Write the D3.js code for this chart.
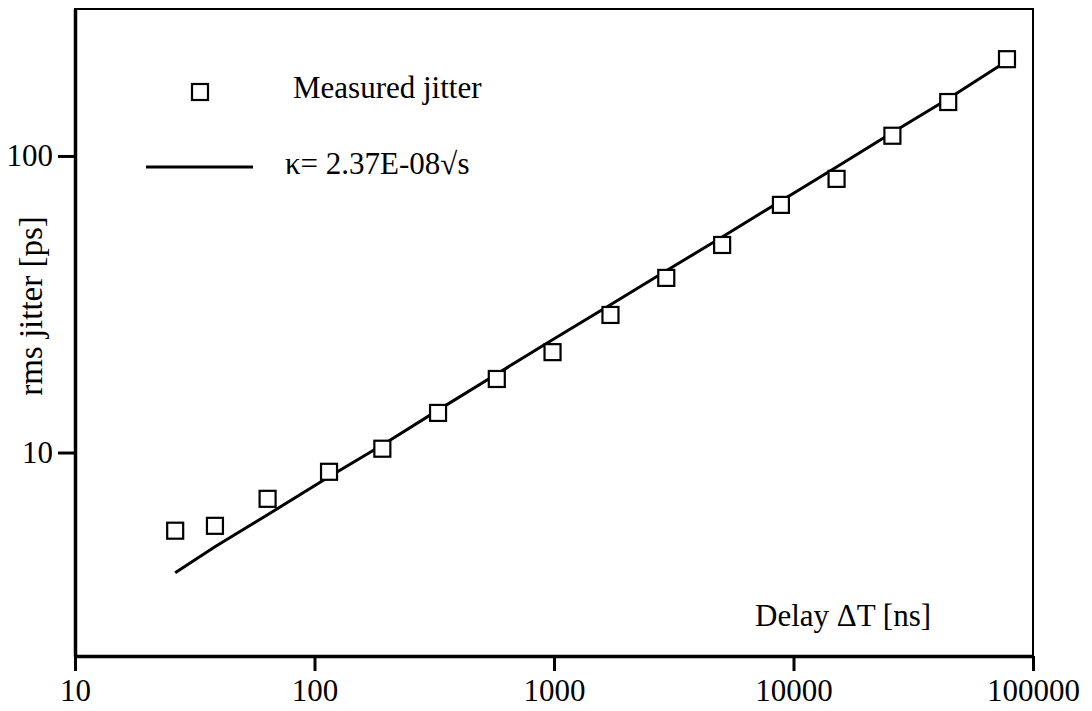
<!DOCTYPE html>
<html>
<head>
<meta charset="utf-8">
<script src="https://cdn.jsdelivr.net/npm/d3@7"></script>
<style>
  body { margin: 0; background: #fff; }
  svg { display: block; font-family: "Liberation Serif", "Times New Roman", serif; }
</style>
</head>
<body>
<svg width="1092" height="711"></svg>
<script>
// measured points: delay [ns] and rms jitter [ps]
var delays = [26.2, 38.4, 63.7, 115, 192, 328, 577, 986, 1721, 2943, 5035, 8860, 15130, 25880, 44260, 77870];
var jitter = [5.45, 5.66, 6.98, 8.61, 10.3, 13.6, 17.7, 21.8, 29.1, 38.8, 50.1, 68.4, 83.7, 117, 152, 212];
// fit curve, evaluated at the same delays
var fit = [3.93, 4.81, 6.17, 8.28, 10.6, 13.9, 18.4, 24.0, 31.5, 41.0, 53.3, 70.5, 91.8, 120, 156, 209];

var xTicks = [10, 100, 1000, 10000, 100000];
var yTicks = [10, 100];

var width = 1092;
var height = 711;
var margin = {top: 9, right: 59, bottom: 55, left: 75};

var svg = d3.select('svg');

var xScale = d3.scaleLog()
  .domain([10, 100000])
  .range([margin.left, width - margin.right]);

var yScale = d3.scaleLog()
  .domain([2.06, 313])
  .range([height - margin.bottom, margin.top]);

// frame (top / right thinner)
svg.append('rect')
  .attr('x', margin.left)
  .attr('y', margin.top)
  .attr('width', width - margin.right - margin.left)
  .attr('height', height - margin.bottom - margin.top)
  .attr('fill', 'none')
  .attr('stroke', '#000')
  .attr('stroke-width', 2);

var xAxis = d3.axisBottom(xScale)
  .tickValues(xTicks)
  .tickFormat(d3.format('d'))
  .tickSizeInner(15)
  .tickSizeOuter(0)
  .tickPadding(8);

var yAxis = d3.axisLeft(yScale)
  .tickValues(yTicks)
  .tickFormat(d3.format('d'))
  .tickSizeInner(17)
  .tickSizeOuter(0)
  .tickPadding(5);

var gx = svg.append('g')
  .attr('transform', 'translate(' + [0, height - margin.bottom] + ')')
  .call(xAxis);

var gy = svg.append('g')
  .attr('transform', 'translate(' + [margin.left, 0] + ')')
  .call(yAxis);

[gx, gy].forEach(g => {
  g.select('.domain').attr('stroke', '#000').attr('stroke-width', 3.5);
  g.selectAll('.tick line').attr('stroke', '#000').attr('stroke-width', 3);
  g.selectAll('.tick text')
    .attr('fill', '#000')
    .style('font-family', '"Liberation Serif", serif')
    .style('font-size', '31px');
});

// fit line
var line = d3.line()
  .x((d, i) => xScale(delays[i]))
  .y(d => yScale(d));

svg.append('path')
  .attr('d', line(fit))
  .attr('fill', 'none')
  .attr('stroke', '#000')
  .attr('stroke-width', 3);

// measured squares
var sq = 16;
svg.append('g')
  .selectAll('rect')
  .data(jitter)
  .join('rect')
  .attr('x', (d, i) => xScale(delays[i]) - sq / 2)
  .attr('y', d => yScale(d) - sq / 2)
  .attr('width', sq)
  .attr('height', sq)
  .attr('fill', '#fff')
  .attr('stroke', '#000')
  .attr('stroke-width', 2.2);

// legend
svg.append('rect')
  .attr('x', 192).attr('y', 84)
  .attr('width', 16).attr('height', 16)
  .attr('fill', '#fff').attr('stroke', '#000').attr('stroke-width', 2.2);

svg.append('text')
  .attr('x', 293).attr('y', 98)
  .style('font-size', '31px')
  .text('Measured jitter');

svg.append('line')
  .attr('x1', 146).attr('x2', 253)
  .attr('y1', 167).attr('y2', 167)
  .attr('stroke', '#000').attr('stroke-width', 3);

svg.append('text')
  .attr('x', 285).attr('y', 174)
  .style('font-size', '31px')
  .text('\u03BA= 2.37E-08\u221As');

// axis titles
svg.append('text')
  .attr('x', 755).attr('y', 626)
  .style('font-size', '31px')
  .text('Delay \u0394T [ns]');

svg.append('text')
  .attr('transform', 'translate(42,306) rotate(-90)')
  .attr('text-anchor', 'middle')
  .style('font-size', '33px')
  .text('rms jitter [ps]');
</script>
</body>
</html>
